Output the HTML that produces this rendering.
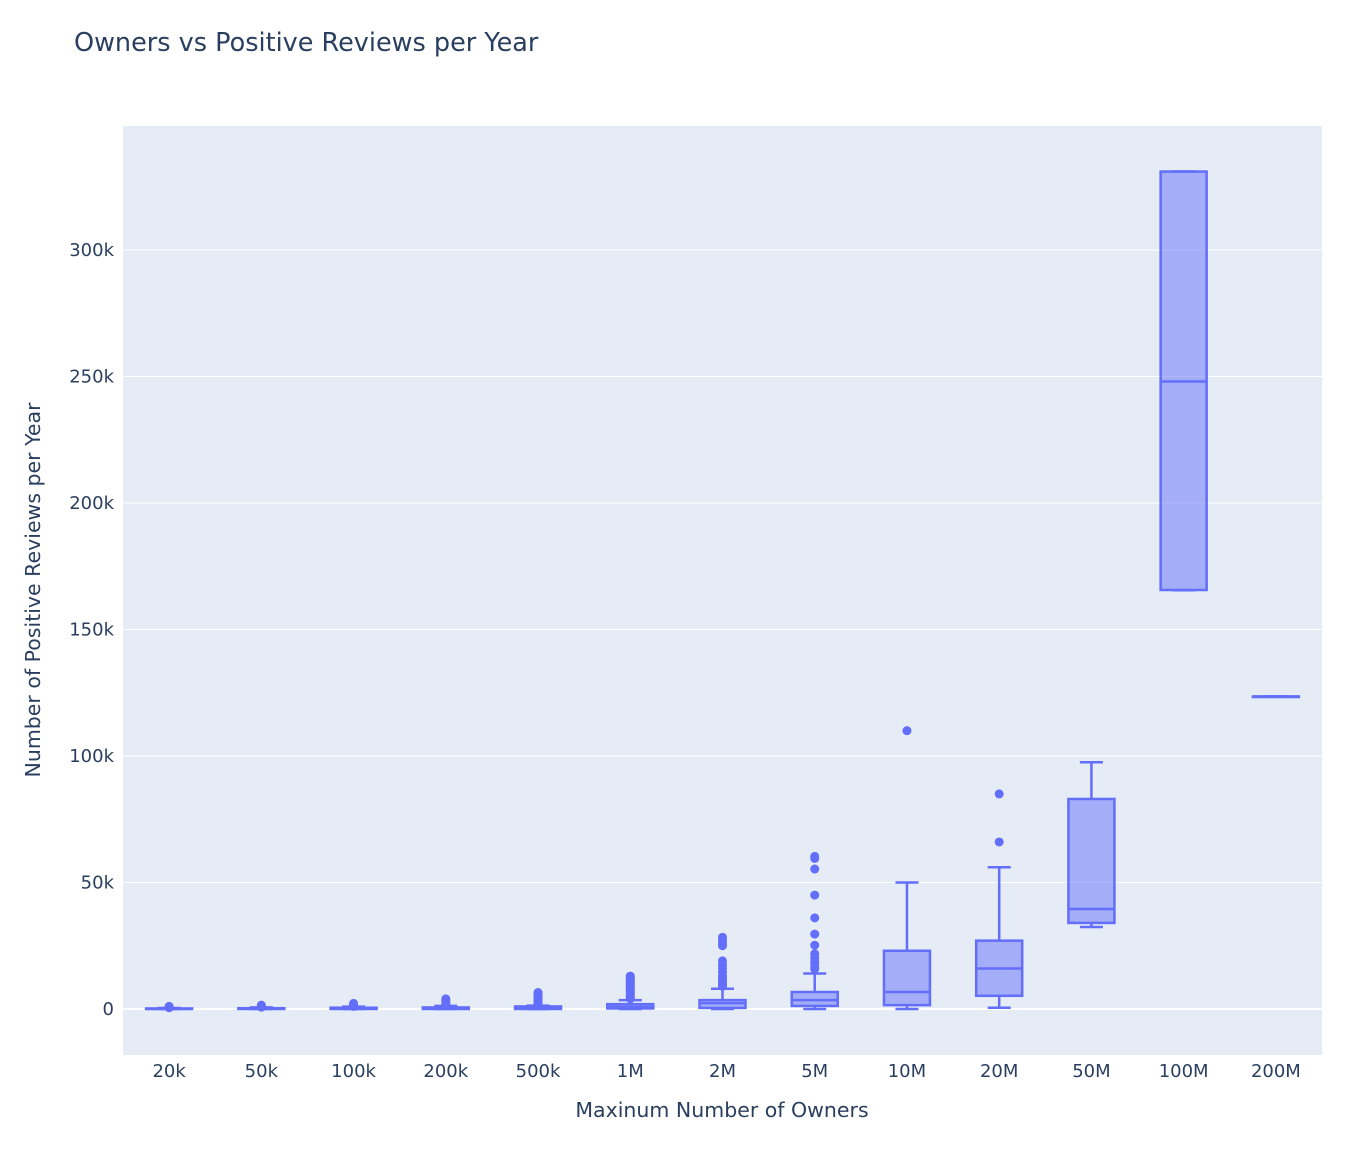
<!DOCTYPE html>
<html><head><meta charset="utf-8"><style>
body{margin:0;background:#fff}
svg text{font-family:"DejaVu Sans","Liberation Sans",sans-serif;fill:#2a3f5f}
</style></head><body>
<svg id="chart" width="1370" height="1166" xmlns="http://www.w3.org/2000/svg">
<text x="74" y="51" font-size="25.5">Owners vs Positive Reviews per Year</text>
<rect x="123" y="126" width="1199" height="929" fill="#e5ecf6"/>
<g id="grid"></g><g id="marks"></g><g id="ticks"></g>
<text x="722" y="1117" font-size="20.5" text-anchor="middle">Maxinum Number of Owners</text>
<text transform="translate(40,590) rotate(-90)" font-size="20.5" text-anchor="middle">Number of Positive Reviews per Year</text>
</svg>
<script>
const categories=["20k","50k","100k","200k","500k","1M","2M","5M","10M","20M","50M","100M","200M"];
const lowerFence=[0,0,0,0,0,0,0,0,0,0.5,32.4,165.5,123.5];
const q1=[0,0,0,0,0,0.2,0.4,1.2,1.5,5.2,34,165.6,123.5];
const median=[0.05,0.1,0.15,0.2,0.3,0.8,2.3,3.5,6.7,16,39.5,248,123.5];
const q3=[0.2,0.3,0.5,0.6,1,1.9,3.5,6.7,23,27,83,331,123.5];
const upperFence=[0.4,0.6,0.9,1.2,1.3,3.5,8,14,50,56,97.5,331,123.5];
const outliers=[
 [0.5,0.7,0.9,1.0],
 [0.7,0.9,1.2,1.5],
 [1.0,1.4,1.8,2.2],
 [1.5,2.0,2.5,3.0,3.5,4.0],
 [1.5,2,2.5,3,3.5,4,4.5,5,5.5,6,6.5],
 [4,4.5,5,5.5,6,6.5,7,7.5,8,8.5,9,9.5,10,10.5,11,11.5,12,12.5,13],
 [9,9.5,10,11,12,13,14.5,16,17.5,19,25,25.8,27,28.3],
 [15.8,16.6,17.8,18.6,20.2,21.8,25.2,29.6,36,45,55.3,59.5,60.3],
 [110],
 [66,85],
 [],[],[]
];
const yTicks=[0,50,100,150,200,250,300];
const yTickLabels=["0","50k","100k","150k","200k","250k","300k"];

const NS="http://www.w3.org/2000/svg";
const L=123,R=1322,T=126,B=1055,yMin=-18.2,yMax=349;
const xBand=(R-L)/categories.length;
function xScale(i){return L+xBand*(i+0.5);}
function yScale(v){return B-(v-yMin)/(yMax-yMin)*(B-T);}
function mk(tag,attrs,parent){const e=document.createElementNS(NS,tag);for(const k in attrs)e.setAttribute(k,attrs[k]);parent.appendChild(e);return e;}
const grid=document.getElementById('grid'),marks=document.getElementById('marks'),ticks=document.getElementById('ticks');
yTicks.forEach((v,i)=>{
 const ln=mk('line',{x1:L,x2:R,y1:yScale(v),y2:yScale(v),stroke:'#fff','stroke-width':v===0?2:1},grid);
 
 
 const t=mk('text',{x:114,y:yScale(v)+6,'font-size':18,'text-anchor':'end'},ticks);
 t.textContent=yTickLabels[i];
 
 
});
const C='#636efa',bw=46,cw=23;
categories.forEach((c,i)=>{
 const x=xScale(i);
 const g=mk('g',{},marks);
 
 
 mk('line',{x1:x,x2:x,y1:yScale(upperFence[i]),y2:yScale(q3[i]),stroke:C,'stroke-width':2.5},g);
 mk('line',{x1:x,x2:x,y1:yScale(q1[i]),y2:yScale(lowerFence[i]),stroke:C,'stroke-width':2.5},g);
 mk('line',{x1:x-cw/2,x2:x+cw/2,y1:yScale(upperFence[i]),y2:yScale(upperFence[i]),stroke:C,'stroke-width':2.5},g);
 mk('line',{x1:x-cw/2,x2:x+cw/2,y1:yScale(lowerFence[i]),y2:yScale(lowerFence[i]),stroke:C,'stroke-width':2.5},g);
 const yt=yScale(q3[i]),yb=yScale(q1[i]);
 mk('rect',{x:x-bw/2,y:yt,width:bw,height:Math.max(yb-yt,0.5),fill:'rgba(99,110,250,0.5)',stroke:C,'stroke-width':2.5},g);
 mk('line',{x1:x-bw/2,x2:x+bw/2,y1:yScale(median[i]),y2:yScale(median[i]),stroke:C,'stroke-width':2.5},g);
 outliers[i].forEach(v=>{
  const p=mk('circle',{cx:x,cy:yScale(v),r:4.5,fill:C},g);
  
  
 });
 const t=mk('text',{x:x,y:1077,'font-size':18,'text-anchor':'middle'},ticks);
 t.textContent=c;
 
 
});
</script>
</body></html>
